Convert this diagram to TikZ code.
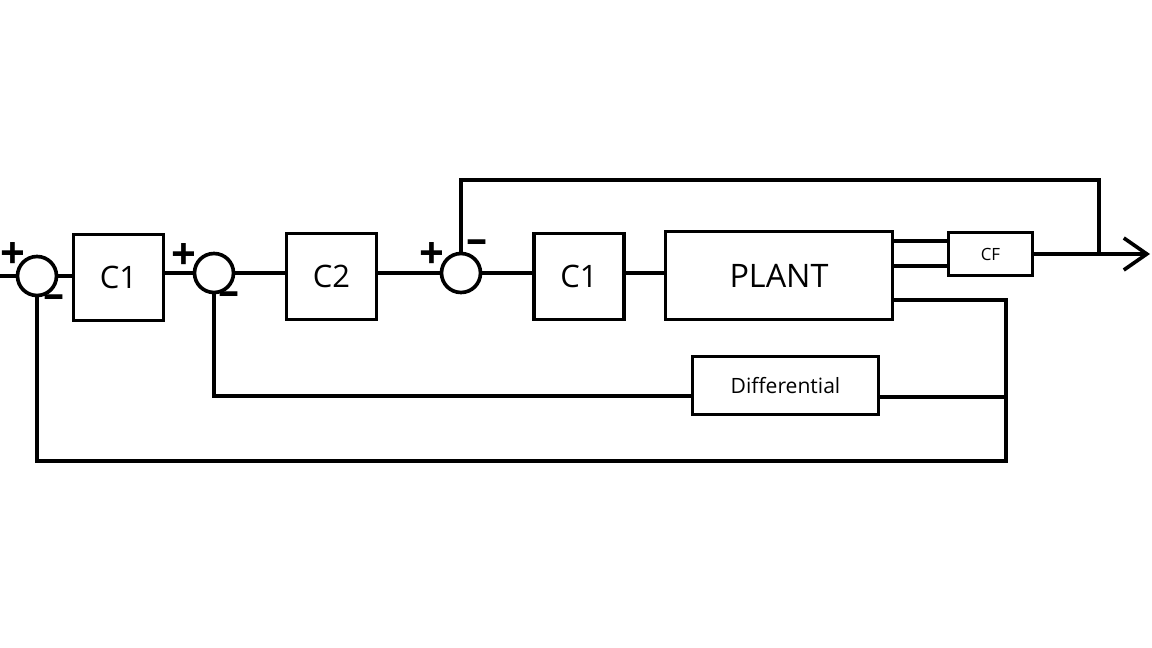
\documentclass[tikz,border=0pt]{standalone}
\usepackage{fontspec}
\setmainfont{Open Sans}
\usetikzlibrary{arrows.meta}

\tikzset{
    block/.style={draw, line width=2.6pt, inner sep=0pt},
    summe/.style={draw, circle, line width=2.6pt, minimum size=0.975cm, inner sep=0pt},
    plus/.style={inner sep=0pt, font=\fontsize{31}{31}\selectfont\bfseries},
    minus/.style={inner sep=0pt, font=\fontsize{30}{30}\selectfont\bfseries},
    verbindung/.style={line width=2.6pt},
}

\begin{document}
\begin{tikzpicture}[x=0.025cm, y=-0.025cm]
    % Bildrahmen
    \useasboundingbox (0,0) rectangle (1152,648);

    % Summationsstellen
    \node[summe] (s1) at (37,276) {};
    \node[summe] (s2) at (214,273) {};
    \node[summe] (s3) at (461,273) {};

    % Vorzeichen
    \node[plus] (p1) at (13,256) {+};
    \node[minus] (m1) at (54,302) {--};
    \node[plus] (p2) at (184,257) {+};
    \node[minus] (m2) at (229,299) {--};
    \node[plus] (p3) at (432,256) {+};
    \node[minus] (m3) at (477,247) {--};

    % Bloecke
    \node[block, minimum width=2.25cm, minimum height=2.15cm,
          font=\fontsize{22}{22}\selectfont] (c1a) at (118.5,277.5) {C1};
    \node[block, minimum width=2.25cm, minimum height=2.15cm,
          font=\fontsize{22}{22}\selectfont] (c2) at (331.5,276.5) {C2};
    \node[block, minimum width=2.25cm, minimum height=2.15cm,
          font=\fontsize{22}{22}\selectfont] (c1b) at (579,276.5) {C1};
    \node[block, minimum width=5.675cm, minimum height=2.2cm,
          font=\fontsize{23}{23}\selectfont] (plant) at (779,275.5) {PLANT};
    \node[block, minimum width=2.1cm, minimum height=1.075cm,
          font=\fontsize{12}{12}\selectfont] (cf) at (990.5,254) {CF};
    \node[block, minimum width=4.65cm, minimum height=1.45cm,
          font=\fontsize{15}{15}\selectfont] (diff) at (785.5,385.5) {Differential};

    % Hilfspunkte
    \coordinate (ein) at (0,276);
    \coordinate (aus) at (1150,254);
    \coordinate (abgr) at (1099,254);
    \coordinate (oben) at (1099,180);
    \coordinate (rueck) at (1006,300);
    \coordinate (rueckd) at (1006,397);
    \coordinate (rueckb) at (1006,461);

    % Vorwaertszweig
    \draw[verbindung] (ein) -- (s1.west);
    \draw[verbindung] (s1.east) -- (s1.east -| c1a.west);
    \draw[verbindung] (s2.west -| c1a.east) -- (s2.west);
    \draw[verbindung] (s2.east) -- (s2.east -| c2.west);
    \draw[verbindung] (s3.west -| c2.east) -- (s3.west);
    \draw[verbindung] (s3.east) -- (s3.east -| c1b.west);
    \draw[verbindung] (s3.east -| c1b.east) -- (s3.east -| plant.west);
    \draw[verbindung] (plant.east |- 0,241) -- (cf.west |- 0,241);
    \draw[verbindung] (plant.east |- 0,266) -- (cf.west |- 0,266);
    \draw[verbindung, -{Straight Barb[length=0.575cm, width=0.8cm]}] (cf.east) -- (aus);

    % Rueckfuehrungen
    \draw[verbindung] (abgr) -- (oben) -| (s3.north);
    \draw[verbindung] (plant.east |- rueck) -- (rueck) -- (rueckb) -| (s1.south);
    \draw[verbindung] (rueckd) -- (diff.east |- rueckd);
    \draw[verbindung] (diff.west |- 0,396) -| (s2.south);
\end{tikzpicture}
\end{document}
